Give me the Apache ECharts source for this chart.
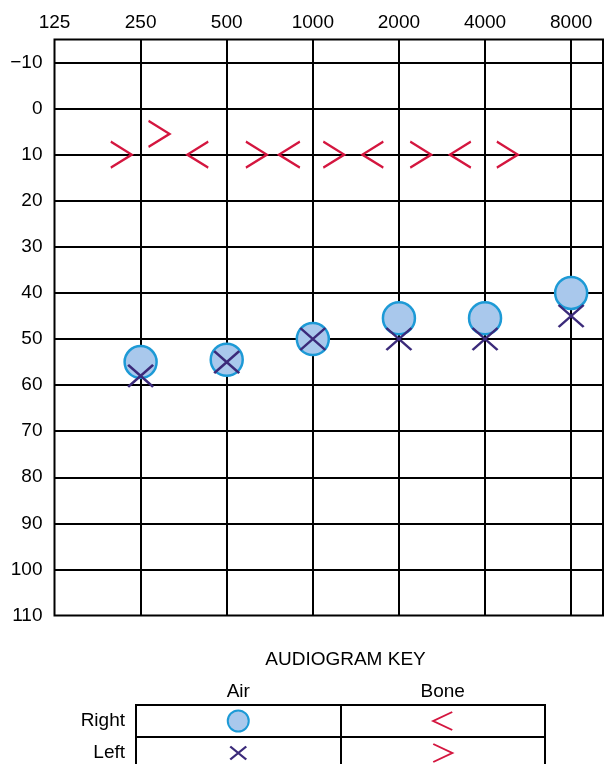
<!DOCTYPE html>
<html><head><meta charset="utf-8">
<script src="https://cdn.jsdelivr.net/npm/echarts@6/dist/echarts.min.js"></script>
<style>html,body{margin:0;padding:0;background:#fff}#c{width:608px;height:764px}</style>
</head><body><div id="c"></div>
<script>
// ---- data ----
const freqLabels = ['125', '250', '500', '1000', '2000', '4000', '8000'];
const gridFreqs = [250, 500, 1000, 2000, 4000, 8000];
const levelTicks = [-10, 0, 10, 20, 30, 40, 50, 60, 70, 80, 90, 100];
const airFreqs = [250, 500, 1000, 2000, 4000, 8000];
const rightAir = [55, 54.5, 50, 45.5, 45.5, 40];
const leftAir = [58, 55, 50, 50, 50, 45];
const rightBoneFreqs = [396, 828, 1621, 3279];
const rightBone = [10, 10, 10, 10];
const leftBoneFreqs = [214, 290, 635, 1184, 2384, 4787];
const leftBone = [10, 5.5, 10, 10, 10, 10];
const keyCols = ['Air', 'Bone'];
const keyRows = ['Right', 'Left'];

// ---- helpers ----
const oct = f => Math.log2(f / 125);
const FONT = 'Liberation Sans, Arial, Helvetica, sans-serif';
const FS = 19;
const RED = '#d4163f', NAVY = '#3b2a7a', FILL = '#a9c8ec', CYAN = '#1d9ad6';
const xPath = 'path://M0,0L24,21M24,0L0,21';
const gtPath = 'path://M0,0L20,13L0,26';
const ltPath = 'path://M20,0L0,13L20,26';
const pairs = (xs, ys) => xs.map((f, i) => [oct(f), ys[i]]);

const chart = echarts.init(document.getElementById('c'), null, {renderer: 'canvas'});
chart.setOption({
  animation: false,
  backgroundColor: '#fff',
  textStyle: {fontFamily: FONT},
  grid: [
    {left: 54.5, top: 39.5, width: 548.5, height: 576, outerBoundsMode: 'none', containLabel: false,
     show: true, borderColor: '#000', borderWidth: 2, backgroundColor: 'transparent'},
    {left: 136, top: 705, width: 409, height: 64, outerBoundsMode: 'none', containLabel: false,
     show: true, borderColor: '#000', borderWidth: 2, backgroundColor: 'transparent'}
  ],
  xAxis: [
    {
      type: 'value', gridIndex: 0, position: 'top', min: 0, max: 6.37, interval: 1,
      axisLine: {show: false}, axisTick: {show: false}, splitLine: {show: false},
      axisLabel: {
        margin: 7, fontSize: FS, color: '#000', fontFamily: FONT,
        formatter: v => { const i = Math.round(v); return (Math.abs(v - i) < 1e-6 && freqLabels[i]) ? freqLabels[i] : ''; }
      }
    },
    {
      type: 'category', gridIndex: 1, position: 'top', data: keyCols,
      name: 'AUDIOGRAM KEY', nameLocation: 'middle', nameGap: 36,
      nameTextStyle: {fontSize: FS, color: '#000', fontFamily: FONT, padding: [0, 0, 0, 10]},
      axisLine: {show: false}, axisTick: {show: false},
      splitLine: {show: true, lineStyle: {color: '#000', width: 2}},
      axisLabel: {margin: 4, fontSize: FS, color: '#000', fontFamily: FONT}
    }
  ],
  yAxis: [
    {
      type: 'value', gridIndex: 0, inverse: true, min: -15, max: 110, interval: 5,
      axisLine: {show: false}, axisTick: {show: false}, splitLine: {show: false},
      axisLabel: {
        margin: 12, fontSize: FS, color: '#000', fontFamily: FONT,
        formatter: v => (Math.round(v) % 10 === 0) ? String(Math.round(v)).replace('-', '\u2212') : ''
      }
    },
    {
      type: 'category', gridIndex: 1, inverse: true, data: keyRows,
      axisLine: {show: false}, axisTick: {show: false},
      splitLine: {show: true, lineStyle: {color: '#000', width: 2}},
      axisLabel: {margin: 11, fontSize: FS, color: '#000', fontFamily: FONT}
    }
  ],
  series: [
    {
      name: 'Right air', type: 'scatter', xAxisIndex: 0, yAxisIndex: 0, silent: true,
      data: pairs(airFreqs, rightAir),
      symbol: 'circle', symbolSize: 32,
      itemStyle: {color: FILL, borderColor: CYAN, borderWidth: 2.5, opacity: 1},
      emphasis: {disabled: true},
      markLine: {
        silent: true, z: 1, symbol: ['none', 'none'], label: {show: false},
        lineStyle: {color: '#000', width: 2, type: 'solid'},
        emphasis: {disabled: true},
        data: levelTicks.map(v => ({yAxis: v})).concat(gridFreqs.map(f => ({xAxis: oct(f)})))
      }
    },
    {
      name: 'Left air', type: 'scatter', xAxisIndex: 0, yAxisIndex: 0, silent: true,
      data: pairs(airFreqs, leftAir),
      symbol: xPath, symbolSize: [25, 22],
      itemStyle: {color: 'transparent', borderColor: NAVY, borderWidth: 2.5, opacity: 1},
      emphasis: {disabled: true}
    },
    {
      name: 'Right bone', type: 'scatter', xAxisIndex: 0, yAxisIndex: 0, silent: true,
      data: pairs(rightBoneFreqs, rightBone),
      symbol: ltPath, symbolSize: [21, 26],
      itemStyle: {color: 'transparent', borderColor: RED, borderWidth: 2.2, opacity: 1},
      emphasis: {disabled: true}
    },
    {
      name: 'Left bone', type: 'scatter', xAxisIndex: 0, yAxisIndex: 0, silent: true,
      data: pairs(leftBoneFreqs, leftBone),
      symbol: gtPath, symbolSize: [21, 26],
      itemStyle: {color: 'transparent', borderColor: RED, borderWidth: 2.2, opacity: 1},
      emphasis: {disabled: true}
    },
    // ---- key ----
    {
      type: 'scatter', xAxisIndex: 1, yAxisIndex: 1, silent: true,
      data: [[keyCols[0], keyRows[0]]], symbol: 'circle', symbolSize: 21,
      itemStyle: {color: FILL, borderColor: CYAN, borderWidth: 2, opacity: 1}
    },
    {
      type: 'scatter', xAxisIndex: 1, yAxisIndex: 1, silent: true,
      data: [[keyCols[0], keyRows[1]]], symbol: xPath, symbolSize: [16, 13],
      itemStyle: {color: 'transparent', borderColor: NAVY, borderWidth: 2, opacity: 1}
    },
    {
      type: 'scatter', xAxisIndex: 1, yAxisIndex: 1, silent: true,
      data: [[keyCols[1], keyRows[0]]], symbol: ltPath, symbolSize: [19, 18],
      itemStyle: {color: 'transparent', borderColor: RED, borderWidth: 2, opacity: 1}
    },
    {
      type: 'scatter', xAxisIndex: 1, yAxisIndex: 1, silent: true,
      data: [[keyCols[1], keyRows[1]]], symbol: gtPath, symbolSize: [19, 18],
      itemStyle: {color: 'transparent', borderColor: RED, borderWidth: 2, opacity: 1}
    }
  ]
});
</script>
</body></html>
